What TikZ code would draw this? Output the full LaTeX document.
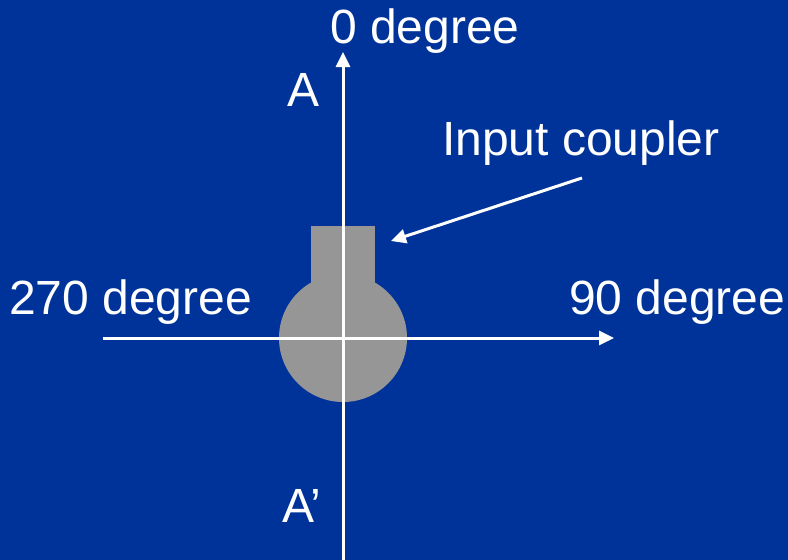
\documentclass[tikz,border=0pt]{standalone}
\usepackage{fontspec}
\setmainfont{Liberation Sans}
\usepackage{xcolor}
\usepackage{tikz}
\usetikzlibrary{arrows.meta}

\definecolor{slideblue}{HTML}{003399}
\definecolor{cavgray}{HTML}{969696}

\begin{document}
\begin{tikzpicture}[x=1pt, y=-1pt,
    lbl/.style={text=white, inner sep=0pt, anchor=base west, font=\fontsize{48}{57}\selectfont},
    axis/.style={draw=white, line width=3pt, -{Triangle[length=15pt,width=14pt]}}]
          % background
          \fill[slideblue] (0,0) rectangle (788,560);
          \useasboundingbox (0,0) rectangle (788,560);

          % cavity with coupler port
          \fill[cavgray] (311,226) rectangle (375,300);
          \fill[cavgray] (343,338) circle (64);

          % axes
          \coordinate (bot) at (343,560);
          \coordinate (top) at (343,52);
          \coordinate (lft) at (103,338);
          \coordinate (rgt) at (614,338);
          \draw[axis] (bot) -- (top);
          \draw[axis] (lft) -- (rgt);

          % labels
          \node[lbl] (deg0) at (330,43) {0 degree};
          \node[lbl] (deg270) at (9,314) {270 degree};
          \node[lbl] (deg90) at (569,314) {90 degree};
          \node[lbl] (a) at (287,106) {A};
          \node[lbl] (ap) at (282,522) {A’};
          \node[lbl] (coupler) at (442,155) {Input coupler};

          \coordinate (cstart) at (582,178);
          \coordinate (cend) at (391,241);
          \draw[axis] (cstart) -- (cend);
        \end{tikzpicture}
\end{document}
